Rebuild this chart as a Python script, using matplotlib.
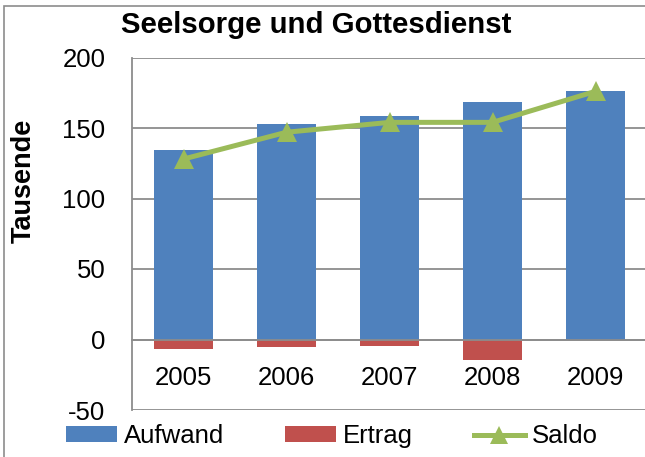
import matplotlib
matplotlib.use("Agg")
import matplotlib.pyplot as plt
from matplotlib.patches import Rectangle
import numpy as np

plt.rcParams['font.family'] = ['Liberation Sans', 'DejaVu Sans']

years = ['2005', '2006', '2007', '2008', '2009']
aufwand = [134.5, 152.5, 158.5, 168.5, 176]
ertrag = [-6.5, -5, -4.5, -14.5, 0]
saldo = [128, 147, 154, 154, 176]
y_ticks = [-50, 0, 50, 100, 150, 200]

BLUE = '#4F81BD'
RED = '#C0504D'
GREEN = '#9BBB59'
GRID = '#8C8C8C'
FS = 18.5

W, H = 645, 457
fig = plt.figure(figsize=(W / 100, H / 100), dpi=100)
ax = fig.add_axes([132 / W, 1 - 410 / H, 515 / W, 352.5 / H])

x = np.arange(len(years))
b1 = ax.bar(x, aufwand, width=0.57, color=BLUE, linewidth=0, label='Aufwand', zorder=1)
b2 = ax.bar(x, ertrag, width=0.57, color=RED, linewidth=0, label='Ertrag', zorder=1.1)
l1, = ax.plot(x, saldo, color=GREEN, lw=3.6, marker='^', markersize=15,
              markeredgewidth=0, label='Saldo', zorder=4)

ax.set_xlim(-0.5, len(years) - 0.5)
ax.set_ylim(-50, 200)
ax.set_yticks(y_ticks)
ax.set_yticklabels([str(v) for v in y_ticks])
ax.set_xticks(x)
ax.set_xticklabels(years)

ax.set_axisbelow(True)
ax.yaxis.grid(True, color=GRID, lw=1.3)
for side in ('top', 'right'):
    ax.spines[side].set_visible(False)
ax.spines['left'].set_color(GRID)
ax.spines['left'].set_linewidth(1.3)
ax.spines['bottom'].set_position(('data', 0))
ax.spines['bottom'].set_color(GRID)
ax.spines['bottom'].set_linewidth(1.3)
ax.tick_params(axis='both', length=0, labelsize=FS, colors='black')
ax.tick_params(axis='y', pad=19)
ax.tick_params(axis='x', pad=19)

fig.text(316 / W, 1 - 33 / H, 'Seelsorge und Gottesdienst', ha='center',
         va='baseline', fontsize=21.2, fontweight='bold')
fig.text(24 / W, 1 - 180.5 / H, 'Tausende', ha='center', va='center',
         rotation=90, fontsize=19.5, fontweight='bold')

fig.legend(handles=[b1, b2, l1], labels=['Aufwand', 'Ertrag', 'Saldo'],
           loc='center', bbox_to_anchor=(332 / W, 1 - 436 / H), ncol=3,
           frameon=False, fontsize=FS, handlelength=2.0, handleheight=0.55,
           handletextpad=0.27, columnspacing=2.35, borderpad=0, borderaxespad=0,
           markerscale=0.85)

fig.patches.append(Rectangle((4 / W, -0.5), 2, 1.5 - 6 / H, transform=fig.transFigure,
                             fill=False, edgecolor='#8C8C8C', lw=1.2))

fig.savefig('out.png', dpi=100)
